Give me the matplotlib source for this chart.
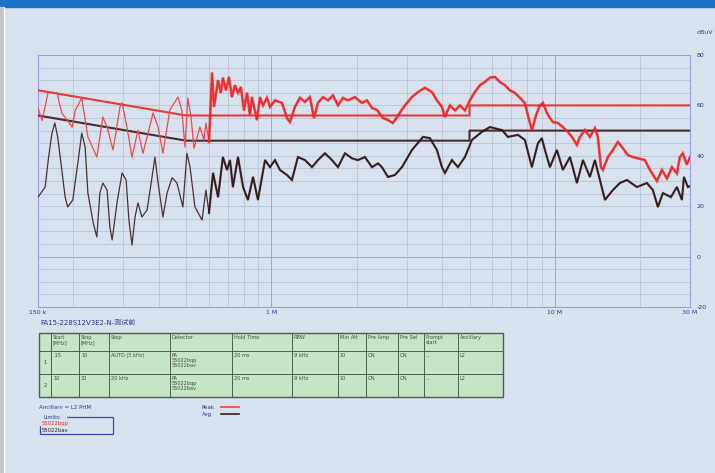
import matplotlib.pyplot as plt
from matplotlib.patches import Rectangle
from matplotlib.ticker import FixedLocator, NullFormatter

plt.rcParams['axes.unicode_minus'] = False

# peak trace (MHz, dBuV)
peak_f = [0.150, 0.155, 0.163, 0.175, 0.182, 0.198, 0.203, 0.214, 0.225, 0.242,
          0.254, 0.263, 0.276, 0.292, 0.297, 0.309, 0.322, 0.338, 0.352, 0.367,
          0.382, 0.398, 0.414, 0.438, 0.468, 0.483, 0.495, 0.507, 0.520, 0.533,
          0.559, 0.578, 0.587, 0.602, 0.617, 0.627, 0.648, 0.663, 0.674, 0.691,
          0.708, 0.725, 0.743, 0.762, 0.780, 0.800, 0.820, 0.840, 0.853, 0.889,
          0.911, 0.933, 0.964, 0.988, 1.029, 1.089, 1.134, 1.162, 1.210, 1.260,
          1.313, 1.367, 1.413, 1.459, 1.520, 1.583, 1.649, 1.717, 1.788, 1.862,
          1.971, 2.086, 2.173, 2.264, 2.357, 2.475, 2.577, 2.683, 2.795, 2.958,
          3.132, 3.290, 3.482, 3.684, 3.837, 3.996, 4.095, 4.265, 4.442, 4.625,
          4.817, 5.016, 5.22, 5.44, 5.67, 5.90, 6.15, 6.40, 6.67, 6.94,
          7.23, 7.53, 7.84, 8.04, 8.30, 8.58, 8.86, 9.08, 9.38, 9.61,
          9.85, 10.26, 10.68, 11.12, 11.58, 11.97, 12.26, 12.77, 13.30, 13.85,
          14.19, 14.55, 14.78, 15.39, 16.03, 16.70, 17.39, 18.11, 18.87, 19.65,
          20.79, 21.66, 22.93, 23.88, 24.87, 25.91, 26.97, 27.63, 28.31, 29.25, 30.0]
peak_db = [59.0, 54.0, 65.3, 65.0, 57.0, 51.4, 58.0, 63.0, 47.5, 39.5,
           55.4, 51.4, 42.3, 59.4, 61.0, 51.4, 39.5, 50.2, 41.0, 49.0,
           57.0, 51.4, 41.0, 58.2, 63.3, 58.0, 43.5, 63.0, 55.4, 43.0,
           51.4, 46.3, 53.0, 45.5, 73.0, 59.4, 70.0, 65.0, 71.0, 66.0,
           71.3, 63.3, 68.0, 65.0, 67.3, 58.0, 65.0, 56.0, 63.3, 54.2,
           63.3, 60.0, 63.0, 59.4, 62.0, 61.0, 55.0, 53.4, 59.4, 63.0,
           61.4, 63.3, 55.0, 61.0, 63.3, 62.0, 64.0, 60.0, 63.0, 62.0,
           63.3, 61.0, 62.0, 59.0, 58.2, 55.0, 54.2, 53.0, 56.0, 60.0,
           63.3, 65.3, 67.0, 65.3, 62.0, 59.4, 55.4, 60.0, 58.0, 60.0,
           58.0, 62.0, 65.3, 68.0, 69.3, 71.0, 71.3, 69.3, 68.0, 66.0,
           65.0, 63.0, 61.0, 56.0, 50.2, 56.0, 60.0, 61.0, 57.0, 55.0,
           53.4, 53.0, 51.4, 49.5, 47.0, 44.3, 47.5, 50.2, 47.5, 51.0,
           47.5, 35.5, 34.4, 39.5, 42.3, 45.5, 43.0, 40.3, 39.5, 39.0,
           38.3, 34.4, 30.0, 34.4, 31.0, 35.5, 33.0, 39.5, 41.0, 36.5, 39.5]

# average trace (MHz, dBuV)
avg_f = [0.150, 0.159, 0.163, 0.168, 0.172, 0.176, 0.182, 0.187, 0.191, 0.199,
         0.208, 0.214, 0.220, 0.225, 0.235, 0.242, 0.248, 0.254, 0.263, 0.269,
         0.274, 0.285, 0.297, 0.307, 0.314, 0.322, 0.330, 0.338, 0.349, 0.364,
         0.379, 0.388, 0.398, 0.414, 0.428, 0.446, 0.464, 0.487, 0.503, 0.516,
         0.537, 0.569, 0.587, 0.602, 0.622, 0.648, 0.674, 0.697, 0.714, 0.731,
         0.762, 0.794, 0.826, 0.861, 0.896, 0.949, 0.988, 1.029, 1.071, 1.134,
         1.181, 1.240, 1.313, 1.390, 1.459, 1.545, 1.635, 1.717, 1.817, 1.923,
         2.019, 2.138, 2.264, 2.377, 2.454, 2.577, 2.728, 2.888, 3.132, 3.426,
         3.624, 3.837, 3.996, 4.095, 4.334, 4.551, 4.817, 5.10, 5.53, 5.90,
         6.51, 6.83, 7.41, 7.84, 8.30, 8.72, 9.00, 9.23, 9.61, 10.17,
         10.68, 11.31, 11.97, 12.57, 13.30, 13.85, 14.43, 15.03, 16.03, 16.97,
         17.97, 19.49, 21.14, 22.19, 23.11, 24.07, 25.68, 26.97, 28.10, 28.55, 29.49, 30.0]
avg_db = [23.6, 27.6, 38.3, 49.0, 53.0, 47.5, 34.4, 23.6, 19.7, 22.5,
          38.3, 49.0, 43.5, 25.2, 13.3, 7.8, 25.2, 29.2, 26.4, 11.7,
          6.6, 21.3, 33.2, 30.4, 14.5, 4.6, 15.7, 21.3, 15.7, 18.5,
          31.6, 39.5, 29.2, 15.7, 25.2, 31.3, 29.2, 19.7, 41.0, 35.5,
          19.7, 14.5, 26.4, 17.3, 33.2, 23.6, 39.5, 34.4, 38.3, 27.6,
          39.5, 27.6, 22.5, 31.6, 22.5, 38.3, 35.5, 38.3, 34.4, 32.4,
          30.4, 39.5, 38.3, 35.5, 38.3, 41.0, 38.3, 35.5, 41.0, 39.0,
          38.3, 39.5, 35.5, 37.0, 35.5, 31.6, 32.4, 35.5, 42.3, 47.5,
          47.0, 42.3, 35.5, 33.2, 38.3, 35.5, 39.5, 46.3, 49.5, 51.4,
          50.2, 47.5, 48.3, 46.3, 35.5, 45.0, 47.0, 42.3, 35.5, 42.3,
          34.4, 39.5, 29.2, 38.3, 31.6, 38.3, 30.4, 22.5, 26.4, 29.2,
          30.4, 27.6, 29.2, 26.4, 19.7, 25.2, 23.6, 27.6, 22.5, 31.6, 27.6, 28.0]

# EN55022 class B limits
qp_f = [0.15, 0.5, 5, 5, 30]
qp_db = [66, 56, 56, 60, 60]
av_f = [0.15, 0.5, 5, 5, 30]
av_db = [56, 46, 46, 50, 50]

y_ticks = [-20, 0, 20, 40, 60, 80]
x_labels = {0.15: '150 k', 1: '1 M', 10: '10 M', 30: '30 M'}

headers = ['', 'Start\n[MHz]', 'Stop\n[MHz]', 'Step', 'Detector', 'Hold Time', 'RBW',
           'Min Att', 'Pre Amp', 'Pre Sel', 'Prompt\nstart', 'Ancillary']
row1 = ['1', '.15', '10', 'AUTO (5 kHz)', 'PA\n55022bqp\n55022bav', '20 ms', '9 kHz',
        '10', 'ON', 'ON', '..', 'L2']
row2 = ['2', '10', '30', '20 kHz', 'PA\n55022bqp\n55022bav', '20 ms', '9 kHz',
        '10', 'ON', 'ON', '..', 'L2']

BG = '#d8e2ee'
TXT = '#2a3590'
GRID = '#bac4d6'

fig = plt.figure(figsize=(7.15, 4.73), dpi=100, facecolor=BG)

# decoration layer in pixel coordinates
deco = fig.add_axes([0, 0, 1, 1])
deco.set_xlim(0, 715)
deco.set_ylim(473, 0)
deco.axis('off')
deco.add_patch(Rectangle((0, 0), 715, 7, color='#1b72c4'))
deco.add_patch(Rectangle((0, 7), 3, 466, color='#c2c4c8'))
deco.plot([4, 4], [7, 473], color='white', lw=0.8)

ax = fig.add_axes([38 / 715, 1 - 307 / 473, 652 / 715, 252 / 473])
ax.set_facecolor(BG)
ax.set_xscale('log')
ax.set_xlim(0.15, 30)
ax.set_ylim(-20, 80)

for y in range(-20, 81, 5):
    ax.axhline(y, color='#8f9de0' if y == 0 else GRID, lw=0.6, zorder=1)
minor = [m * d for d in (0.1, 1, 10) for m in range(2, 10) if 0.15 < m * d < 30]
for x in minor:
    ax.axvline(x, color=GRID, lw=0.6, zorder=1)
for x in (1, 10):
    ax.axvline(x, color='#9aa4e0', lw=0.7, zorder=1)

ax.plot(qp_f, qp_db, color='#e43a3a', lw=1.5, zorder=3)
ax.plot(av_f, av_db, color='#4a2c2c', lw=1.5, zorder=3)

# thin traces everywhere, plus a wider band where the scan is dense (> 0.6 MHz)
ax.plot(peak_f, peak_db, color='#f04848', lw=0.9, zorder=4)
ax.plot(avg_f, avg_db, color='#4a3030', lw=0.9, zorder=4)
pk_hi = [(f, v) for f, v in zip(peak_f, peak_db) if f >= 0.6]
av_hi = [(f, v) for f, v in zip(avg_f, avg_db) if f >= 0.6]
ax.plot([p[0] for p in pk_hi], [p[1] for p in pk_hi], color='#f01c1c', lw=1.9,
        alpha=0.75, zorder=5, solid_joinstyle='miter')
ax.plot([p[0] for p in av_hi], [p[1] for p in av_hi], color='#2a1010', lw=1.6,
        alpha=0.75, zorder=5, solid_joinstyle='miter')

for s in ax.spines.values():
    s.set_color('#9a9ae8')
    s.set_linewidth(0.8)

ax.yaxis.tick_right()
ax.set_yticks(y_ticks)
ax.tick_params(axis='y', length=0, pad=5, labelsize=4.5, labelcolor=TXT)
ax.xaxis.set_major_locator(FixedLocator(list(x_labels.keys())))
ax.set_xticklabels(list(x_labels.values()))
ax.xaxis.set_minor_formatter(NullFormatter())
ax.tick_params(axis='x', which='both', length=0, pad=2, labelsize=4.5, labelcolor=TXT)
ax.text(1.01, 1.09, 'dBuV', transform=ax.transAxes, fontsize=4.5, color=TXT, va='center')

# title line
deco.text(40, 323, 'FA15-228S12V3E2-N-测试前', fontsize=5, color=TXT, va='center',
          family=['DejaVu Sans', 'Noto Sans CJK SC'])

# settings table
cols = [39, 51, 79, 109, 170, 232, 292, 338, 366, 398, 424, 458, 503]
rows = [333, 351, 374, 397]
deco.add_patch(Rectangle((cols[0], rows[0]), cols[-1] - cols[0], rows[-1] - rows[0],
                         facecolor='#c6e4c6', edgecolor='#4d5e4d', lw=1.0))
for c in cols[1:-1]:
    deco.plot([c, c], [rows[0], rows[-1]], color='#4d5e4d', lw=0.7)
for r in rows[1:-1]:
    deco.plot([cols[0], cols[-1]], [r, r], color='#4d5e4d', lw=0.7)

for i, h in enumerate(headers):
    deco.text(cols[i] + 2, rows[0] + 2, h, fontsize=3.6, color='#405040', va='top',
              linespacing=1.0)
for r, row in enumerate([row1, row2]):
    top = rows[r + 1]
    bottom = rows[r + 2]
    deco.text(cols[0] + 6, (top + bottom) / 2, row[0], fontsize=3.8, color='#405040',
              ha='center', va='center')
    for i, v in enumerate(row[1:], start=1):
        deco.text(cols[i] + 2, top + 2, v, fontsize=3.6, color='#405040', va='top',
                  linespacing=1.0)

# legends
deco.text(39, 407, 'Ancillary = L2 PHM', fontsize=4, color=TXT, va='center')
deco.add_patch(Rectangle((40, 417), 73, 17, facecolor='none', edgecolor='#3c4ab0', lw=0.9))
deco.text(43, 417, 'Limits:', fontsize=3.8, color=TXT, va='center', backgroundcolor=BG)
deco.text(42, 423, '55022bqp', fontsize=3.8, color='#e83030', va='center')
deco.text(42, 430, '55022bav', fontsize=3.8, color='#3a1c1c', va='center')

deco.text(202, 407, 'Peak', fontsize=4, color=TXT, va='center')
deco.plot([221, 239], [407, 407], color='#f04040', lw=1.2)
deco.text(202, 414, 'Avg', fontsize=4, color=TXT, va='center')
deco.plot([221, 239], [414, 414], color='#3a1c1c', lw=1.2)

fig.savefig('out.png', dpi=100, facecolor=BG)
